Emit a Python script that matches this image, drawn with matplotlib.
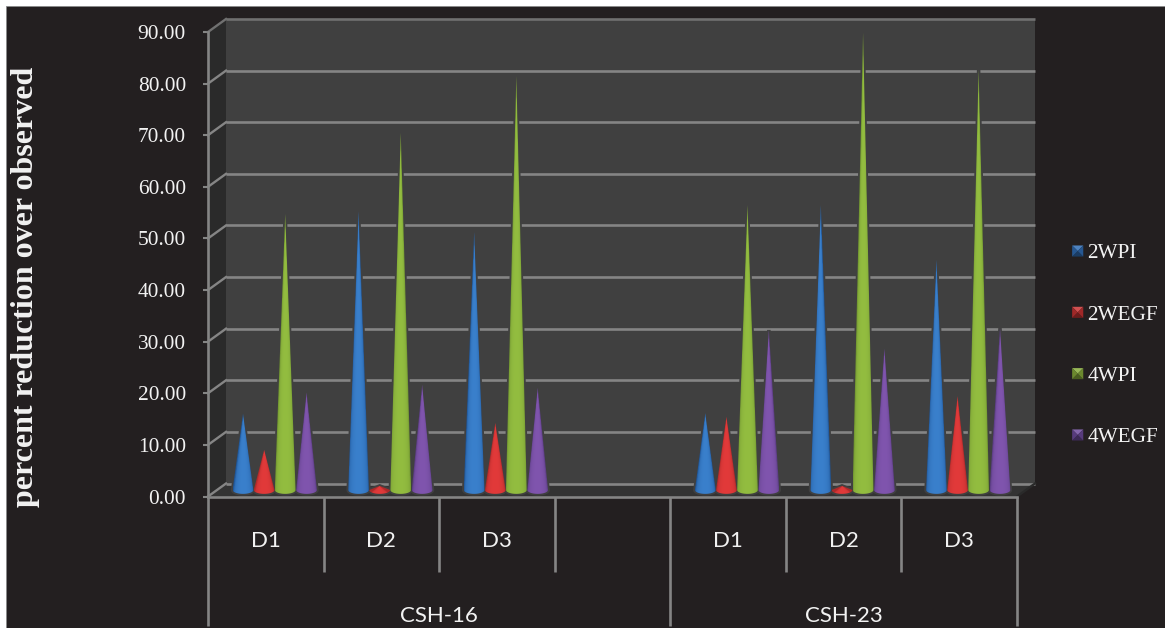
import numpy as np
import matplotlib
matplotlib.use("Agg")
import matplotlib.pyplot as plt
from matplotlib.legend_handler import HandlerBase
from matplotlib.patches import Patch, Polygon, Rectangle
from matplotlib.transforms import Affine2D, IdentityTransform

days = ["D1", "D2", "D3", "", "D1", "D2", "D3"]
groups = ["CSH-16", "CSH-23"]
series = ["2WPI", "2WEGF", "4WPI", "4WEGF"]
yticks = [0, 10, 20, 30, 40, 50, 60, 70, 80, 90]

wpi2 = [14.8, 54.0, 50.0, np.nan, 14.9, 55.2, 44.6]
wegf2 = [7.8, 0.8, 13.0, np.nan, 14.2, 0.8, 18.2]
wpi4 = [53.5, 69.2, 80.2, np.nan, 55.2, 88.6, 81.4]
wegf4 = [18.9, 20.4, 19.8, np.nan, 31.0, 27.4, 31.4]
values = [wpi2, wegf2, wpi4, wegf4]

# dark edge, bright middle, colour for the legend
colors = [("#1f5597", "#3a80cc", "#2f6db5"),
          ("#ad2a2a", "#e23a3a", "#c83232"),
          ("#6f9330", "#93bd40", "#86ab3a"),
          ("#5b3d84", "#8055ae", "#6d4a9c")]

bg = "#231f20"
wall = "#404040"
side = "#2a2a2a"
floor = "#333333"
line = "#858585"
W, H = 1165, 628
px = IdentityTransform()


class PyramidHandler(HandlerBase):
    def create_artists(self, legend, orig, xd, yd, width, height, fontsize, trans):
        c = orig.get_facecolor()
        x0, x1 = width - 8.0, width
        y0, y1 = height / 2 - 4.0, height / 2 + 4.0
        xm, ym = (x0 + x1) / 2, (y0 + y1) / 2
        rgb = np.array(c[:3])
        tris = [([x0, y1], [x1, y1], (rgb * 0.85 + 0.15)),
                ([x0, y0], [x1, y0], rgb * 0.55),
                ([x0, y0], [x0, y1], rgb * 0.8),
                ([x1, y0], [x1, y1], rgb * 0.8)]
        out = []
        for p1, p2, col in tris:
            out.append(Polygon([p1, p2, [xm, ym]], closed=True, facecolor=col,
                               edgecolor="none", transform=trans))
        return out


fig = plt.figure(figsize=(W / 100, H / 100), dpi=100, facecolor="white")
fig.patches.append(Rectangle((6 / W, 0), 1, 1 - 6 / H, transform=fig.transFigure,
                             facecolor=bg, edgecolor="#8a8a8a", lw=0.6, zorder=-5))

# front axis runs 208..1017 px across, 0 at 496.5 and 90 at 32 px down
ax = fig.add_axes([208 / W, 1 - 496.5 / H, 809 / W, 464.5 / H])
ax.set_xlim(0, 7)
ax.set_ylim(0, 90)
ax.patch.set_visible(False)

back = ax.transData + Affine2D().translate(18, 13)
mid = ax.transData + Affine2D().translate(9, 6.5)

ax.add_patch(Rectangle((0, 0), 7, 90, transform=back, facecolor=wall, edgecolor="none", zorder=1,
                       clip_on=False))
left = ax.transData.transform([[0, 0], [0, 90]])
right = ax.transData.transform([[7, 0]])[0]
ax.add_patch(Polygon([left[0], left[1], left[1] + [18, 13], left[0] + [18, 13]], closed=True,
                     transform=px, facecolor=side, edgecolor="none", zorder=1, clip_on=False))
ax.add_patch(Polygon([left[0], right, right + [18, 13], left[0] + [18, 13]], closed=True,
                     transform=px, facecolor=floor, edgecolor="none", zorder=1, clip_on=False))

for v in yticks:
    c = "#707070" if v == 90 else line
    ax.plot([0, 7], [v, v], transform=back, color=c, lw=1.9, zorder=2, clip_on=False,
            solid_capstyle="butt")
    p = ax.transData.transform([0, v])
    ax.plot([p[0], p[0] + 18], [p[1], p[1] + 13], transform=px, color=c, lw=1.7,
            zorder=2, clip_on=False)
ax.plot([right[0], right[0] + 18], [right[1], right[1] + 13], transform=px, color=side, lw=1.7,
        zorder=2, clip_on=False)

# cones: a shaded image clipped to the cone outline
offsets = [-0.275, -0.092, 0.09, 0.275]
r = 0.09
ry = 0.75
thetas = np.linspace(np.pi, 2 * np.pi, 25)
xs, ys = np.meshgrid(np.linspace(-1, 1, 41), np.linspace(0, 1, 300))
u = np.clip(xs / np.maximum(1 - ys, 0.005), -1, 1)
shade = ((1 - u ** 2) ** 0.3)[..., None]

for s, vals in enumerate(values):
    dark = np.array(matplotlib.colors.to_rgb(colors[s][0]))
    bright = np.array(matplotlib.colors.to_rgb(colors[s][1]))
    img = dark + (bright - dark) * shade
    for i, v in enumerate(vals):
        if np.isnan(v):
            continue
        cx = i + 0.5 + offsets[s]
        outline = [[cx, v]] + [[cx + r * np.cos(t), ry * np.sin(t)] for t in thetas[::-1]]
        # thin wall coloured rim, gridlines stop just short of the cone
        ax.add_patch(Polygon(outline, closed=True, transform=mid, facecolor=wall, edgecolor=wall,
                             lw=2.5, zorder=2.5, clip_on=False))
        cone = Polygon(outline, closed=True, transform=mid)
        im = ax.imshow(img, extent=[cx - r, cx + r, -ry, v], origin="lower", aspect="auto",
                       transform=mid, zorder=3 + s * 0.1, interpolation="bilinear")
        im.set_clip_box(fig.bbox)
        im.set_clip_path(cone)

ax.set_xlim(0, 7)
ax.set_ylim(0, 90)

for name, spine in ax.spines.items():
    spine.set_visible(name in ("left", "bottom"))
    spine.set_color(line)
    spine.set_linewidth(1.9)
    spine.set_zorder(5)

ax.set_yticks(yticks)
ax.set_yticklabels(["%.2f" % v for v in yticks], family="Liberation Serif", fontsize=15.4,
                   color="#f2f2f2")
ax.tick_params(axis="y", color=line, width=1.5, length=3.6, pad=12.3)
ax.set_xticks([])

# two level category axis under the floor
for i in range(8):
    low = -25 if i in (0, 4, 7) else -14.6
    ax.plot([i, i], [0, low], color=line, lw=1.9, clip_on=False, zorder=5, solid_capstyle="butt")
for i, d in enumerate(days):
    ax.text(i + 0.5, -8.7, d, ha="center", va="center", family="Lato", fontsize=16,
            color="#f2f2f2")
ax.text(2, -23.1, groups[0], ha="center", va="center", family="Lato", fontsize=16, color="#f2f2f2")
ax.text(5.5, -23.1, groups[1], ha="center", va="center", family="Lato", fontsize=16, color="#f2f2f2")

fig.text(26 / W, 1 - 287 / H, "percent reduction over observed", rotation=90, ha="center",
         va="center", family="Liberation Serif", fontweight="bold", fontsize=23, color="#f2f2f2")

handles = [Patch(facecolor=colors[i][2], label=series[i]) for i in range(4)]
leg = ax.legend(handles=handles, handler_map={Patch: PyramidHandler()}, frameon=False,
                loc="center left", bbox_to_anchor=(1062 / W, 1 - 345.5 / H),
                bbox_transform=fig.transFigure, prop={"family": "Liberation Serif", "size": 15.3},
                labelcolor="#f2f2f2", labelspacing=1.95, handlelength=1.0, handletextpad=0.2,
                borderpad=0, borderaxespad=0)

fig.savefig("out.png", dpi=100, facecolor="white")
